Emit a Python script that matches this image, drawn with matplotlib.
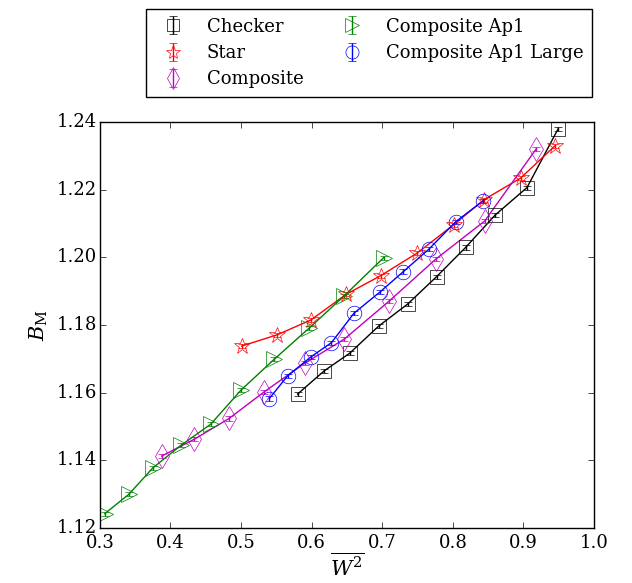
import matplotlib
matplotlib.use('Agg')
import matplotlib.pyplot as plt

plt.style.use('classic')
plt.rcParams['font.family'] = 'serif'
plt.rcParams['font.serif'] = ['DejaVu Serif']
plt.rcParams['mathtext.fontset'] = 'dejavuserif'
plt.rcParams['figure.facecolor'] = 'white'
plt.rcParams['savefig.facecolor'] = 'white'

# ─── data ───
checker_x = [0.58, 0.618, 0.654, 0.695, 0.736, 0.777, 0.818, 0.86, 0.905, 0.949]
checker_y = [1.1596, 1.1665, 1.1717, 1.1797, 1.1862, 1.1943, 1.2029, 1.2125, 1.2206, 1.2379]

star_x = [0.501, 0.551, 0.599, 0.649, 0.698, 0.749, 0.801, 0.844, 0.896, 0.945]
star_y = [1.1738, 1.1771, 1.1815, 1.1891, 1.1946, 1.2012, 1.2096, 1.217, 1.2234, 1.233]

comp_x = [0.3875, 0.434, 0.483, 0.533, 0.590, 0.646, 0.710, 0.776, 0.845, 0.918]
comp_y = [1.1413, 1.1463, 1.1524, 1.1603, 1.1687, 1.1758, 1.1871, 1.1995, 1.2107, 1.232]

ap1_x = [0.307, 0.341, 0.375, 0.415, 0.457, 0.500, 0.547, 0.596, 0.646, 0.702]
ap1_y = [1.1243, 1.1300, 1.1378, 1.1445, 1.1507, 1.1608, 1.1699, 1.1790, 1.1886, 1.1999]

large_x = [0.540, 0.566, 0.599, 0.628, 0.660, 0.697, 0.730, 0.766, 0.804, 0.843]
large_y = [1.1583, 1.1650, 1.1706, 1.1748, 1.1835, 1.1898, 1.1958, 1.2024, 1.2105, 1.2167]

err = 0.0006

series = [
    ("Checker", checker_x, checker_y, 'k', 's', 10),
    ("Star", star_x, star_y, 'r', '*', 12),
    ("Composite", comp_x, comp_y, 'm', 'd', 12),
    ("Composite Ap1", ap1_x, ap1_y, 'g', '>', 11),
    ("Composite Ap1 Large", large_x, large_y, 'b', 'o', 10.5),
]

fig = plt.figure(figsize=(6.32, 5.83), dpi=100)
ax = fig.add_axes([0.158, 0.094, 0.782, 0.697])

for label, xs, ys, c, m, ms in series:
    # connecting line (kept out of the legend)
    ax.plot(xs, ys, color=c, lw=1)
    ax.errorbar(xs, ys, yerr=[err] * len(ys), ls='none', ecolor=c, marker=m,
                markersize=ms, mfc='none', mec=c, capsize=3,
                elinewidth=1, label=label)

ax.set_xlim(0.3, 1.0)
ax.set_ylim(1.12, 1.24)
ax.set_xticks([0.3, 0.4, 0.5, 0.6, 0.7, 0.8, 0.9, 1.0])
ax.set_yticks([1.12, 1.14, 1.16, 1.18, 1.20, 1.22, 1.24])
ax.tick_params(labelsize=13)
ax.tick_params(axis='y', pad=2)
ax.tick_params(axis='x', pad=4)
ax.set_xlabel(r'$\overline{W^2}$', fontsize=15, labelpad=0)
ax.set_ylabel(r'$B_{\rm M}$', fontsize=15)

fig.legend(loc='upper right', bbox_to_anchor=(0.937, 0.985), ncol=2,
           numpoints=1, fontsize=13, frameon=True, handlelength=2,
           borderpad=0.5, borderaxespad=0, labelspacing=0.45,
           handletextpad=0.85, columnspacing=1.7, markerscale=0.9)

plt.savefig('out.png', dpi=100)
